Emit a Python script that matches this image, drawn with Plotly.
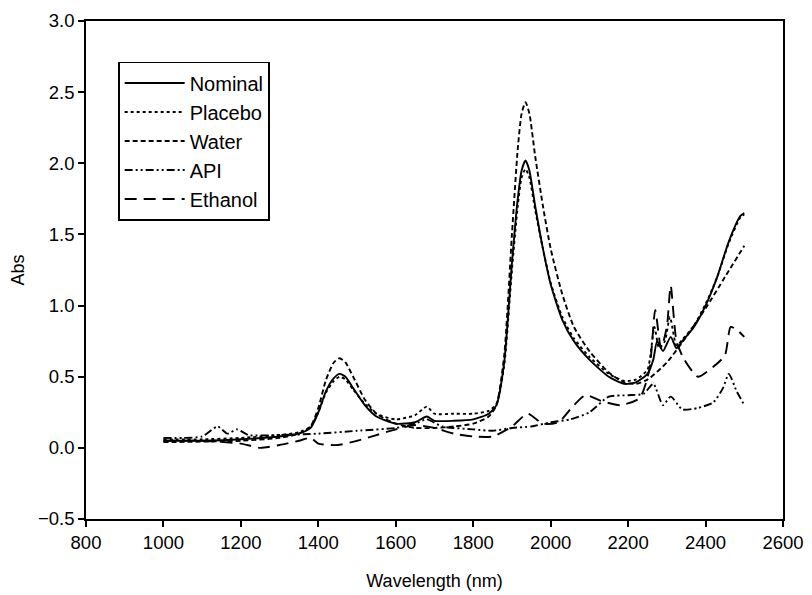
import plotly.graph_objects as go

# ---- data ----
nominal_x = [1000, 1100, 1200, 1300, 1350, 1380, 1400, 1420, 1440, 1455, 1470, 1490, 1520, 1550, 1600,
             1650, 1680, 1700, 1750, 1800, 1840, 1860, 1880, 1900, 1915, 1925, 1935, 1945, 1960, 1980,
             2000, 2030, 2060, 2100, 2150, 2190, 2220, 2250, 2265, 2275, 2290, 2310, 2325, 2340, 2370,
             2400, 2430, 2460, 2490, 2500]
nominal_y = [0.05, 0.05, 0.06, 0.08, 0.10, 0.14, 0.25, 0.40, 0.49, 0.52, 0.50, 0.42, 0.30, 0.22, 0.17,
             0.18, 0.22, 0.19, 0.19, 0.20, 0.24, 0.30, 0.60, 1.30, 1.75, 1.95, 2.02, 1.95, 1.70, 1.40,
             1.15, 0.90, 0.75, 0.62, 0.50, 0.45, 0.46, 0.52, 0.62, 0.75, 0.68, 0.78, 0.70, 0.75, 0.85,
             1.00, 1.20, 1.45, 1.63, 1.65]

placebo_x = [1000, 1100, 1200, 1300, 1350, 1380, 1400, 1420, 1440, 1455, 1470, 1490, 1520, 1550, 1600,
             1650, 1680, 1700, 1750, 1800, 1840, 1860, 1880, 1900, 1915, 1925, 1935, 1945, 1960, 1980,
             2000, 2030, 2060, 2100, 2150, 2190, 2220, 2250, 2268, 2280, 2295, 2308, 2325, 2340, 2370,
             2400, 2430, 2460, 2490, 2500]
placebo_y = [0.06, 0.06, 0.07, 0.09, 0.11, 0.15, 0.25, 0.39, 0.47, 0.50, 0.48, 0.41, 0.31, 0.24, 0.20,
             0.23, 0.29, 0.24, 0.24, 0.24, 0.26, 0.31, 0.58, 1.25, 1.70, 1.90, 1.96, 1.90, 1.67, 1.40,
             1.16, 0.92, 0.77, 0.64, 0.52, 0.47, 0.48, 0.55, 0.85, 0.70, 0.75, 0.92, 0.72, 0.76, 0.86,
             1.01, 1.20, 1.44, 1.62, 1.64]

water_x = [1000, 1200, 1300, 1350, 1380, 1400, 1420, 1440, 1455, 1470, 1490, 1520, 1550, 1600, 1650,
           1700, 1750, 1800, 1840, 1860, 1880, 1900, 1915, 1925, 1935, 1945, 1960, 1980, 2000, 2030,
           2060, 2100, 2150, 2190, 2220, 2250, 2300, 2350, 2400, 2450, 2500]
water_y = [0.04, 0.05, 0.07, 0.10, 0.15, 0.28, 0.48, 0.60, 0.63, 0.60, 0.50, 0.34, 0.24, 0.17, 0.14,
           0.14, 0.15, 0.17, 0.22, 0.30, 0.65, 1.50, 2.10, 2.35, 2.43, 2.35, 2.05, 1.70, 1.40, 1.08,
           0.85, 0.68, 0.53, 0.46, 0.45, 0.48, 0.60, 0.78, 0.98, 1.20, 1.42]

api_x = [1000, 1050, 1100, 1140, 1165, 1190, 1220, 1300, 1400, 1500, 1600, 1650, 1680, 1720, 1800,
         1850, 1900, 1950, 2000, 2050, 2100, 2150, 2200, 2240, 2265, 2290, 2310, 2340, 2380, 2420,
         2445, 2460, 2480, 2500]
api_y = [0.07, 0.07, 0.08, 0.15, 0.10, 0.13, 0.09, 0.09, 0.10, 0.12, 0.14, 0.17, 0.20, 0.15, 0.13,
         0.12, 0.14, 0.15, 0.18, 0.20, 0.25, 0.36, 0.37, 0.38, 0.45, 0.30, 0.36, 0.27, 0.28, 0.32,
         0.42, 0.52, 0.40, 0.30]

ethanol_x = [1000, 1100, 1200, 1250, 1300, 1350, 1380, 1400, 1450, 1500, 1550, 1600, 1650, 1700, 1750,
             1800, 1850, 1900, 1940, 1980, 2020, 2060, 2090, 2130, 2180, 2230, 2255, 2270, 2285, 2300,
             2310, 2325, 2345, 2380, 2420, 2450, 2465, 2485, 2500]
ethanol_y = [0.05, 0.05, 0.03, 0.00, 0.02, 0.05, 0.07, 0.03, 0.02, 0.05, 0.09, 0.13, 0.16, 0.14, 0.10,
             0.08, 0.08, 0.15, 0.24, 0.17, 0.18, 0.30, 0.37, 0.33, 0.30, 0.35, 0.55, 0.97, 0.70, 0.85,
             1.14, 0.75, 0.62, 0.50, 0.57, 0.65, 0.85, 0.82, 0.78]

x_ticks = [800, 1000, 1200, 1400, 1600, 1800, 2000, 2200, 2400, 2600]
y_ticks = [-0.5, 0.0, 0.5, 1.0, 1.5, 2.0, 2.5, 3.0]

series = [
    ("Nominal", nominal_x, nominal_y, "solid"),
    ("Placebo", placebo_x, placebo_y, "dot"),
    ("Water", water_x, water_y, "5px,3px"),
    ("API", api_x, api_y, "8px,3px,2px,3px,2px,3px"),
    ("Ethanol", ethanol_x, ethanol_y, "12px,7px"),
]

FONT = "Liberation Sans, Arial, sans-serif"

fig = go.Figure()
for name, xs, ys, dash in series:
    fig.add_trace(go.Scatter(
        x=xs, y=ys, name=name, mode="lines",
        line=dict(color="black", width=1.9, dash=dash, shape="spline", smoothing=0.6),
    ))

axis_common = dict(
    showline=True, linecolor="black", linewidth=1.6, mirror=True,
    ticks="outside", ticklen=6, tickwidth=1.6, tickcolor="black",
    showgrid=False, zeroline=False, automargin=False,
    tickfont=dict(family=FONT, size=18.5, color="black"),
)

fig.update_layout(
    width=804, height=587,
    margin=dict(l=78, r=29, t=13, b=76),
    paper_bgcolor="white", plot_bgcolor="white",
    font=dict(family=FONT, size=18, color="black"),
    xaxis=dict(range=[800, 2600], tickvals=x_ticks, ticktext=[str(v) for v in x_ticks],
               title=dict(text="Wavelength (nm)", standoff=22, font=dict(size=18)), **axis_common),
    yaxis=dict(range=[-0.5, 3.0], tickvals=y_ticks,
               ticktext=[f"{v:.1f}".replace("-", "\u2212") for v in y_ticks],
               title=dict(text="Abs", standoff=14, font=dict(size=18)), **axis_common),
    legend=dict(x=0.046, y=0.918, xanchor="left", yanchor="top",
                bordercolor="black", borderwidth=1.6, bgcolor="white",
                font=dict(size=20), tracegroupgap=0, itemwidth=60),
    showlegend=True,
)

fig.write_html("out.html")
